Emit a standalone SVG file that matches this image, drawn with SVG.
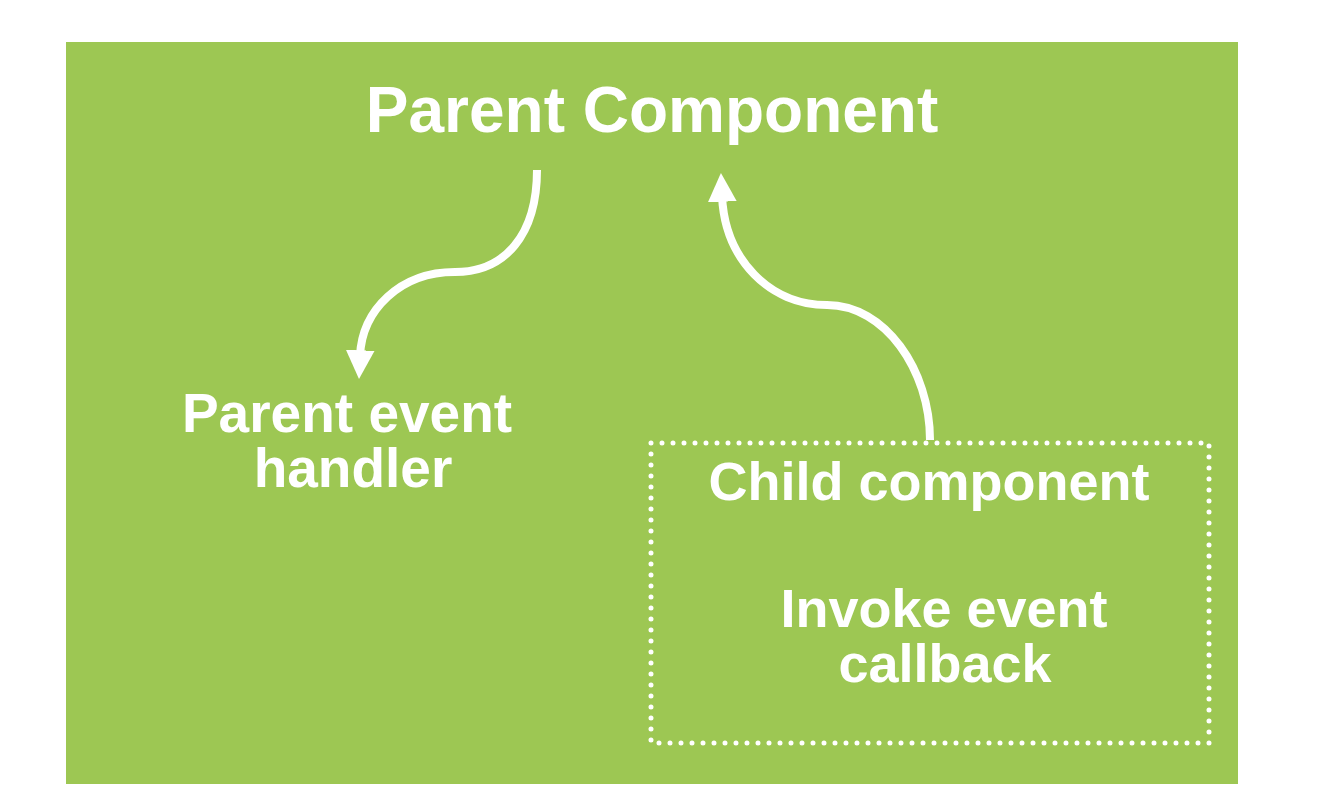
<svg xmlns="http://www.w3.org/2000/svg" width="1338" height="810" viewBox="0 0 1338 810">
  <style>
    .lbl { font-family: "Liberation Sans", Arial, sans-serif; font-weight: bold; fill: #ffffff; text-anchor: middle; }
    .conn { fill: none; stroke: #ffffff; stroke-width: 8; }
  </style>
  <defs>
    <marker id="head" viewBox="0 0 10 10" refX="2" refY="5" markerWidth="3.6" markerHeight="3.6" orient="auto" markerUnits="strokeWidth">
      <path d="M0,0 L10,5 L0,10 Z" fill="#ffffff"/>
    </marker>
  </defs>
  <rect width="1338" height="810" fill="#ffffff"/>
  <rect x="66" y="42" width="1172" height="742" fill="#9dc753"/>

  <g id="connectors">
    <path class="conn" d="M537,170 C537,235 505,272 455,272 C400,272 362,310 360,356" marker-end="url(#head)"/>
    <path class="conn" d="M930,440 C930,370 885,305 827,305 C770,305 725,260 722,196" marker-end="url(#head)"/>
  </g>

  <g id="parent">
    <text class="lbl" x="652" y="132" font-size="64">Parent Component</text>
  </g>
  <g id="parent-handler">
    <text class="lbl" x="347" y="432" font-size="55">Parent event</text>
    <text class="lbl" x="353" y="487" font-size="55">handler</text>
  </g>
  <g id="child">
    <rect x="651" y="443" width="558" height="300" fill="none" stroke="#ffffff" stroke-width="5" stroke-linecap="round" stroke-dasharray="0 11"/>
    <text class="lbl" x="929" y="500" font-size="54">Child component</text>
    <text class="lbl" x="944" y="627" font-size="54">Invoke event</text>
    <text class="lbl" x="945" y="682" font-size="54">callback</text>
  </g>
</svg>
